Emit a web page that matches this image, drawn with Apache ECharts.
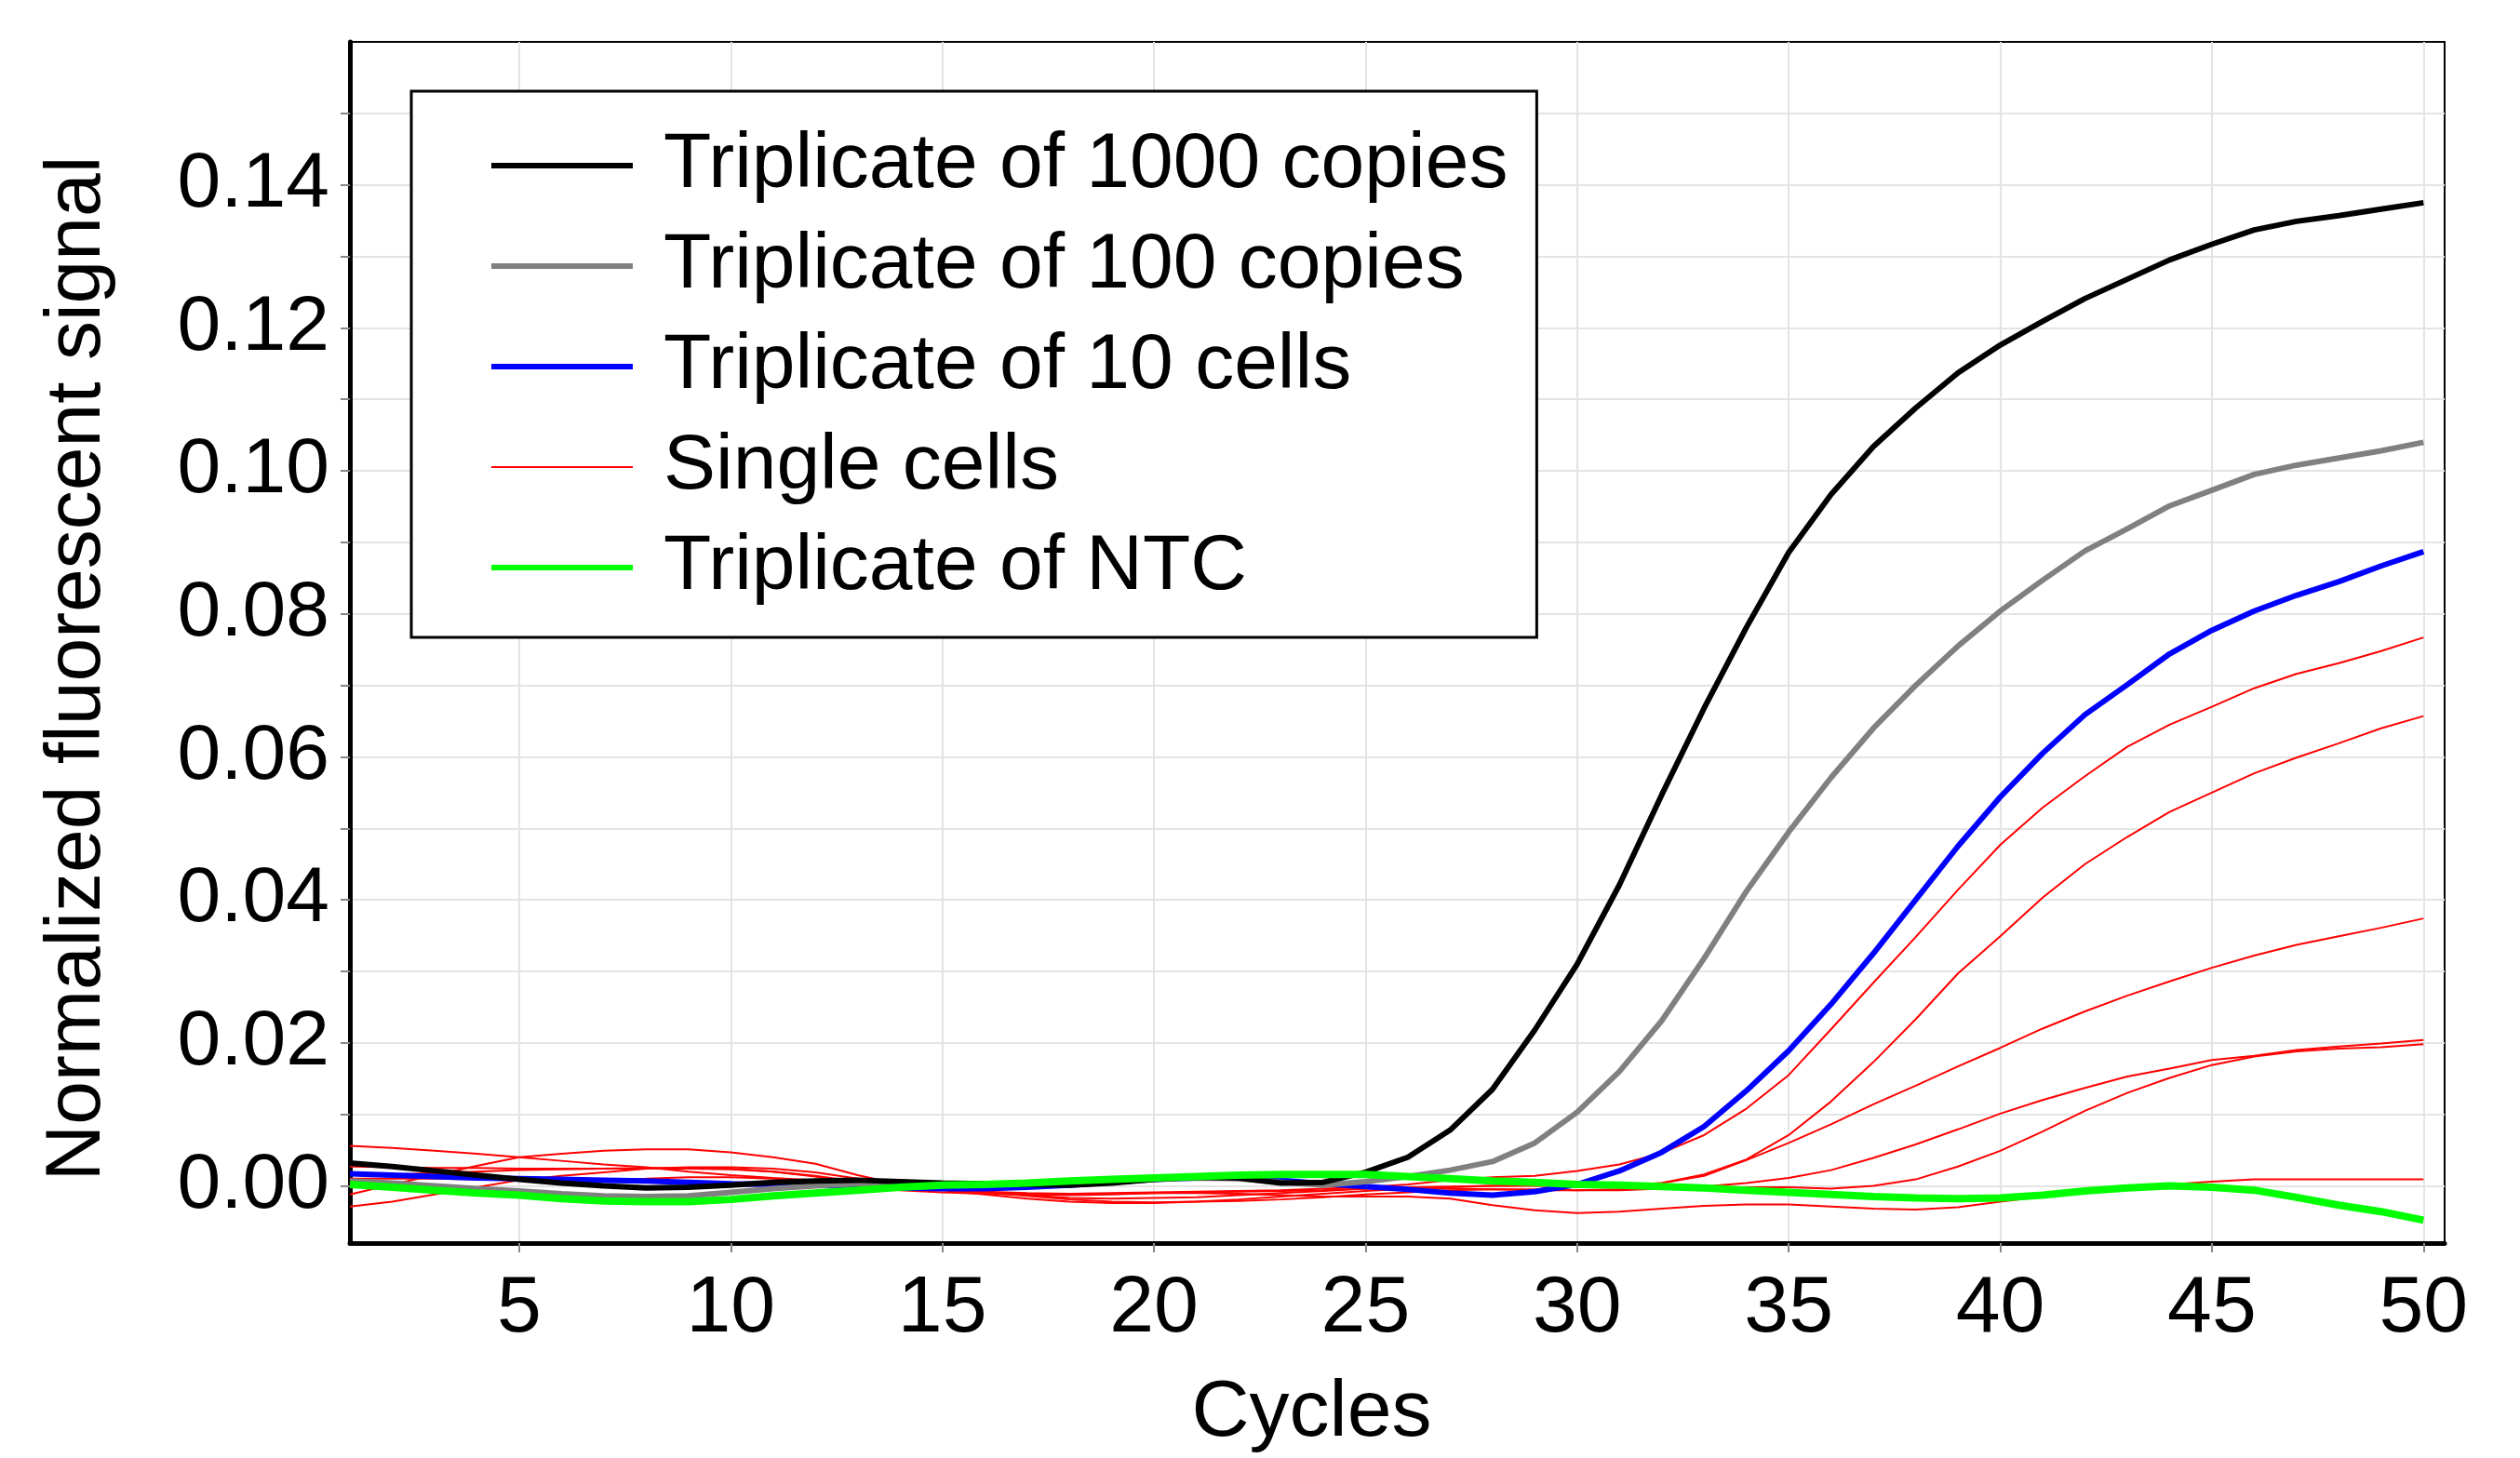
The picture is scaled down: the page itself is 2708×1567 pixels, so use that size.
<!DOCTYPE html>
<html>
<head>
<meta charset="utf-8">
<title>qPCR curves</title>
<script src="https://cdn.jsdelivr.net/npm/echarts@6/dist/echarts.min.js"></script>
<style>
  html, body { margin: 0; padding: 0; background: #fff; }
  #chart { width: 2708px; height: 1567px; }
</style>
</head>
<body>
<div id="chart"></div>
<script>
// cycles 1..50
var cycles = [1,2,3,4,5,6,7,8,9,10,11,12,13,14,15,16,17,18,19,20,21,22,23,24,25,
  26,27,28,29,30,31,32,33,34,35,36,37,38,39,40,41,42,43,44,45,46,47,48,49,50];

// tick positions
var xTicks = [5,10,15,20,25,30,35,40,45,50];
var yTicks = [0,0.01,0.02,0.03,0.04,0.05,0.06,0.07,0.08,0.09,0.10,0.11,0.12,0.13,0.14,0.15];
var yLabels = [0,0.02,0.04,0.06,0.08,0.10,0.12,0.14];

// Triplicate of 1000 copies
var copies1000 = [0.0032,0.0027,0.0021,0.0015,0.0009,0.0004,0.0000,-0.0003,-0.0002,0.0001,
  0.0005,0.0007,0.0008,0.0006,0.0004,0.0003,0.0002,0.0001,0.0004,0.0009,
  0.0012,0.0011,0.0004,0.0005,0.0019,0.0040,0.0078,0.0135,0.0218,0.0310,
  0.0421,0.0547,0.0668,0.0781,0.0886,0.0967,0.1034,0.1088,0.1137,0.1176,
  0.1209,0.1241,0.1268,0.1295,0.1317,0.1337,0.1349,0.1357,0.1366,0.1375];

// Triplicate of 100 copies
var copies100 = [0.0007,0.0004,0.0000,-0.0004,-0.0007,-0.0011,-0.0014,-0.0015,-0.0014,-0.0009,
  -0.0004,0.0000,0.0003,0.0003,0.0003,0.0002,0.0002,0.0004,0.0006,0.0009,
  0.0011,0.0010,0.0005,0.0001,0.0006,0.0013,0.0022,0.0034,0.0060,0.0103,
  0.0160,0.0231,0.0318,0.0412,0.0495,0.0571,0.0640,0.0700,0.0755,0.0804,
  0.0847,0.0888,0.0919,0.0951,0.0973,0.0995,0.1008,0.1018,0.1028,0.1040];

// Triplicate of 10 cells
var cells10 = [0.0017,0.0015,0.0013,0.0011,0.0010,0.0009,0.0008,0.0007,0.0005,0.0003,
  0.0002,0.0001,-0.0001,-0.0003,-0.0004,-0.0004,-0.0002,0.0001,0.0005,0.0009,
  0.0011,0.0011,0.0008,0.0003,-0.0001,-0.0005,-0.0010,-0.0013,-0.0008,0.0002,
  0.0021,0.0047,0.0083,0.0133,0.0189,0.0254,0.0325,0.0400,0.0475,0.0544,
  0.0605,0.0659,0.0701,0.0744,0.0777,0.0804,0.0826,0.0845,0.0867,0.0887];

// single cells, one array per cell
var single1 = [0.0015,0.0016,0.0018,0.0020,0.0022,0.0023,0.0024,0.0025,0.0025,0.0024,
  0.0020,0.0013,0.0005,-0.0001,-0.0005,-0.0008,-0.0010,-0.0011,-0.0010,-0.0009,
  -0.0008,-0.0007,-0.0006,-0.0004,-0.0002,0.0002,0.0008,0.0012,0.0014,0.0021,
  0.0030,0.0046,0.0071,0.0108,0.0155,0.0219,0.0284,0.0348,0.0414,0.0477,
  0.0529,0.0573,0.0614,0.0645,0.0670,0.0696,0.0716,0.0731,0.0748,0.0767];
var single2 = [0.0056,0.0053,0.0049,0.0045,0.0040,0.0035,0.0030,0.0026,0.0020,0.0015,
  0.0011,0.0008,0.0005,0.0001,-0.0003,-0.0008,-0.0013,-0.0017,-0.0018,-0.0017,
  -0.0016,-0.0013,-0.0010,-0.0007,-0.0004,-0.0002,-0.0001,0.0000,0.0000,-0.0001,
  0.0000,0.0004,0.0016,0.0037,0.0071,0.0118,0.0173,0.0233,0.0297,0.0349,
  0.0403,0.0450,0.0488,0.0523,0.0550,0.0577,0.0599,0.0619,0.0640,0.0657];
var single3 = [-0.0012,0.0002,0.0015,0.0028,0.0040,0.0045,0.0049,0.0051,0.0051,0.0047,
  0.0040,0.0031,0.0015,0.0002,-0.0006,-0.0012,-0.0018,-0.0022,-0.0024,-0.0024,
  -0.0022,-0.0019,-0.0015,-0.0011,-0.0007,-0.0004,-0.0002,0.0000,0.0001,0.0001,
  0.0001,0.0004,0.0014,0.0036,0.0060,0.0086,0.0114,0.0140,0.0167,0.0193,
  0.0220,0.0244,0.0266,0.0286,0.0305,0.0322,0.0337,0.0349,0.0361,0.0374];
var single4 = [-0.0029,-0.0022,-0.0012,-0.0002,0.0008,0.0014,0.0019,0.0024,0.0026,0.0026,
  0.0024,0.0019,0.0010,0.0002,-0.0004,-0.0009,-0.0014,-0.0019,-0.0022,-0.0023,
  -0.0022,-0.0021,-0.0019,-0.0016,-0.0012,-0.0009,-0.0006,-0.0005,-0.0005,-0.0006,
  -0.0006,-0.0004,-0.0001,0.0004,0.0011,0.0022,0.0039,0.0058,0.0079,0.0101,
  0.0120,0.0137,0.0153,0.0164,0.0176,0.0182,0.0190,0.0195,0.0199,0.0204];
var single5 = [0.0027,0.0026,0.0025,0.0025,0.0024,0.0024,0.0024,0.0024,0.0024,0.0023,
  0.0020,0.0014,0.0006,-0.0001,-0.0005,-0.0009,-0.0012,-0.0013,-0.0012,-0.0010,
  -0.0009,-0.0008,-0.0007,-0.0006,-0.0004,-0.0003,-0.0004,-0.0005,-0.0006,-0.0006,
  -0.0005,-0.0004,-0.0003,-0.0002,-0.0002,-0.0004,0.0000,0.0009,0.0027,0.0049,
  0.0076,0.0105,0.0130,0.0151,0.0169,0.0181,0.0188,0.0192,0.0194,0.0198];
var single6 = [0.0010,0.0010,0.0010,0.0009,0.0008,0.0008,0.0009,0.0010,0.0012,0.0012,
  0.0010,0.0006,0.0000,-0.0006,-0.0009,-0.0011,-0.0012,-0.0012,-0.0011,-0.0010,
  -0.0010,-0.0011,-0.0013,-0.0015,-0.0015,-0.0015,-0.0018,-0.0027,-0.0034,-0.0038,
  -0.0036,-0.0032,-0.0028,-0.0026,-0.0026,-0.0029,-0.0032,-0.0033,-0.0030,-0.0022,
  -0.0015,-0.0009,-0.0003,0.0002,0.0006,0.0009,0.0009,0.0009,0.0009,0.0009];

// Triplicate of NTC
var ntc = [0.0002,-0.0002,-0.0006,-0.0010,-0.0013,-0.0018,-0.0021,-0.0022,-0.0022,-0.0019,
  -0.0014,-0.0010,-0.0006,-0.0002,0.0001,0.0002,0.0004,0.0007,0.0009,0.0011,
  0.0013,0.0015,0.0016,0.0016,0.0016,0.0013,0.0010,0.0007,0.0005,0.0002,
  0.0001,-0.0001,-0.0003,-0.0006,-0.0009,-0.0012,-0.0015,-0.0017,-0.0018,-0.0017,
  -0.0013,-0.0007,-0.0003,0.0000,-0.0002,-0.0006,-0.0016,-0.0027,-0.0036,-0.0048];

var singles = [single1, single2, single3, single4, single5, single6];

var FONT = '"Liberation Sans", Arial, sans-serif';

// colour / width per group
var styles = {
  'Triplicate of 1000 copies': { color: '#000000', width: 6 },
  'Triplicate of 100 copies':  { color: '#808080', width: 6 },
  'Triplicate of 10 cells':    { color: '#0000ff', width: 6 },
  'Single cells':              { color: '#ff0000', width: 2 },
  'Triplicate of NTC':         { color: '#00ff00', width: 8 }
};
var legendNames = ['Triplicate of 1000 copies','Triplicate of 100 copies','Triplicate of 10 cells','Single cells','Triplicate of NTC'];

function pairs(vals){
  return cycles.map(function(c, i){ return [c, vals[i]]; });
}

function lineSeries(name, vals){
  var st = styles[name];
  return {
    name: name,
    type: 'line',
    data: pairs(vals),
    symbol: 'none',
    smooth: false,
    silent: true,
    animation: false,
    lineStyle: { color: st.color, width: st.width },
    itemStyle: { color: st.color }
  };
}

var series = [];
// reds go underneath everything
singles.forEach(function(s){
  series.push(lineSeries('Single cells', s));
});
series.push(lineSeries('Triplicate of 10 cells', cells10));
series.push(lineSeries('Triplicate of 100 copies', copies100));
series.push(lineSeries('Triplicate of 1000 copies', copies1000));
series.push(lineSeries('Triplicate of NTC', ntc));

// legend entries: plain line, no dot
var legendData = legendNames.map(function(n){
  return {
    name: n,
    itemStyle: { opacity: 0 },
    lineStyle: { color: styles[n].color, width: n === 'Single cells' ? 2 : 6 }
  };
});

var chart = echarts.init(document.getElementById('chart'));
chart.setOption({
  backgroundColor: '#fff',
  animation: false,
  textStyle: { fontFamily: FONT },
  grid: {
    left: 376, right: 81, top: 45, bottom: 231,
    show: true, borderColor: '#000', borderWidth: 2
  },
  legend: {
    data: legendData,
    orient: 'vertical',
    left: 442, top: 98,
    backgroundColor: '#fff',
    borderColor: '#000',
    borderWidth: 3,
    padding: [36, 31, 31, 83],
    itemWidth: 152,
    itemHeight: 20,
    itemGap: 20,
    selectedMode: false,
    textStyle: { fontSize: 84, lineHeight: 88, color: '#000', fontFamily: FONT, padding: [0, 0, 0, 28] }
  },
  xAxis: {
    type: 'value',
    min: 1, max: 50.5,
    name: 'Cycles',
    nameLocation: 'middle',
    nameGap: 140,
    nameTextStyle: { fontSize: 86, color: '#000', fontFamily: FONT, padding: [0, 184, 0, 0] },
    axisLine: { show: true, onZero: false, lineStyle: { color: '#000', width: 5 } },
    axisTick: { show: true, customValues: xTicks, length: 10, lineStyle: { color: '#888', width: 2 } },
    axisLabel: { customValues: xTicks, fontSize: 86, color: '#000', margin: 28, fontFamily: FONT },
    splitLine: { show: true, lineStyle: { color: '#e4e4e4', width: 2 } }
  },
  yAxis: {
    type: 'value',
    min: -0.008, max: 0.16,
    name: 'Normalized fluorescent signal',
    nameLocation: 'middle',
    nameGap: 250,
    nameTextStyle: { fontSize: 84, color: '#000', fontFamily: FONT, padding: [0, 56, 0, 0] },
    axisLine: { show: true, onZero: false, lineStyle: { color: '#000', width: 5 } },
    axisTick: { show: true, customValues: yTicks, length: 10, lineStyle: { color: '#888', width: 2 } },
    axisLabel: {
      customValues: yLabels, fontSize: 84, color: '#000', margin: 22, fontFamily: FONT,
      formatter: function(v){ return v.toFixed(2); }
    },
    splitLine: { show: true, lineStyle: { color: '#e4e4e4', width: 2 } }
  },
  series: series
});
</script>
</body>
</html>
